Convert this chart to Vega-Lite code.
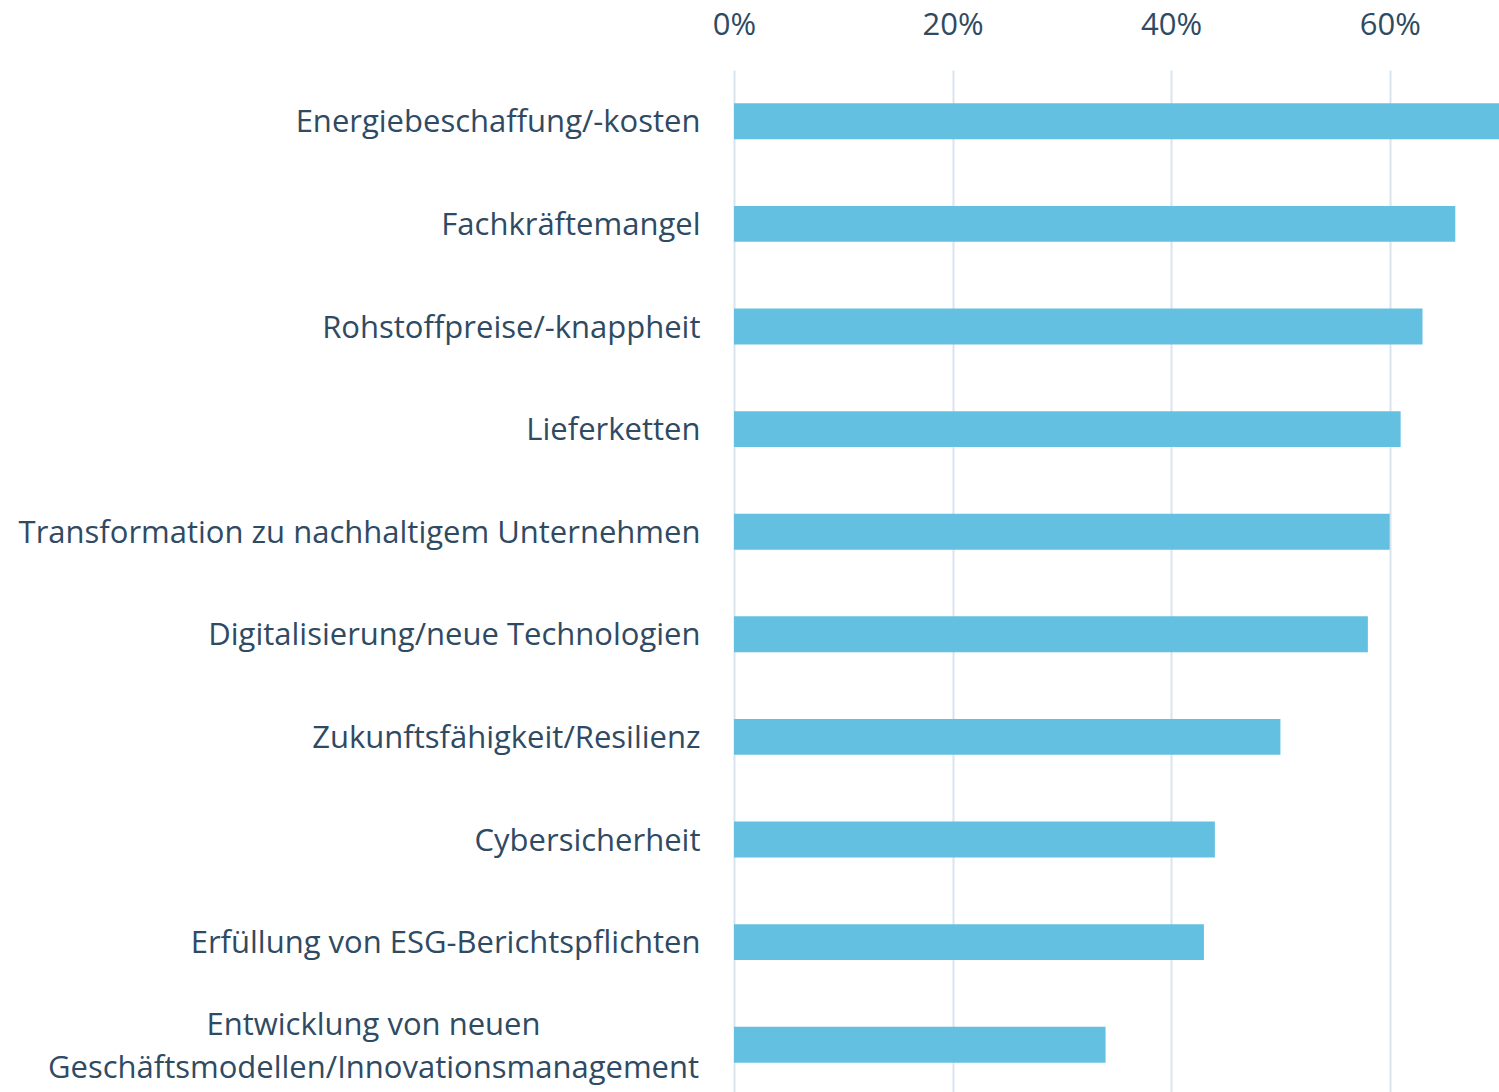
{
  "$schema": "https://vega.github.io/schema/vega-lite/v6.json",
  "width": 765,
  "height": 1026,
  "autosize": {"type": "none"},
  "padding": {"left": 734, "top": 70, "right": 0, "bottom": 0},
  "background": "white",
  "config": {"view": {"stroke": null}, "font": "Open Sans"},
  "data": {
    "values": [
      {"kategorie": "Energiebeschaffung/-kosten", "anteil": 0.70},
      {"kategorie": "Fachkräftemangel", "anteil": 0.66},
      {"kategorie": "Rohstoffpreise/-knappheit", "anteil": 0.63},
      {"kategorie": "Lieferketten", "anteil": 0.61},
      {"kategorie": "Transformation zu nachhaltigem Unternehmen", "anteil": 0.60},
      {"kategorie": "Digitalisierung/neue Technologien", "anteil": 0.58},
      {"kategorie": "Zukunftsfähigkeit/Resilienz", "anteil": 0.50},
      {"kategorie": "Cybersicherheit", "anteil": 0.44},
      {"kategorie": "Erfüllung von ESG-Berichtspflichten", "anteil": 0.43},
      {"kategorie": "Entwicklung von neuen Geschäftsmodellen/Innovationsmanagement", "anteil": 0.34}
    ]
  },
  "mark": {"type": "bar", "color": "#64c0e0", "clip": true},
  "encoding": {
    "y": {
      "field": "kategorie",
      "type": "nominal",
      "sort": null,
      "scale": {"paddingInner": 0.65, "paddingOuter": 0.325},
      "axis": {
        "title": null,
        "domain": false,
        "ticks": false,
        "labelFont": "Open Sans",
        "labelFontSize": 31,
        "labelColor": "#2f4a63",
        "labelLimit": 800,
        "labelLineHeight": 43,
        "labelPadding": {"condition": {"test": "indexof(datum.value, 'Entwicklung') === 0", "value": 361}, "value": 34},
        "labelOffset": {"condition": {"test": "indexof(datum.value, 'Entwicklung') === 0", "value": -19}, "value": 2},
        "labelAlign": {"condition": {"test": "indexof(datum.value, 'Entwicklung') === 0", "value": "center"}, "value": "right"},
        "labelExpr": "indexof(datum.value, 'Entwicklung') === 0 ? ['Entwicklung von neuen', 'Geschäftsmodellen/Innovationsmanagement'] : datum.value"
      }
    },
    "x": {
      "field": "anteil",
      "type": "quantitative",
      "scale": {"domain": [0, 0.70], "nice": false},
      "axis": {
        "orient": "top",
        "title": null,
        "format": ".0%",
        "values": [0, 0.2, 0.4, 0.6],
        "domain": false,
        "ticks": false,
        "grid": true,
        "gridColor": "#d8e4ee",
        "gridWidth": 2,
        "labelFlush": false,
        "labelFont": "Open Sans",
        "labelFontSize": 31,
        "labelColor": "#2f4a63",
        "labelPadding": 29
      }
    }
  }
}
